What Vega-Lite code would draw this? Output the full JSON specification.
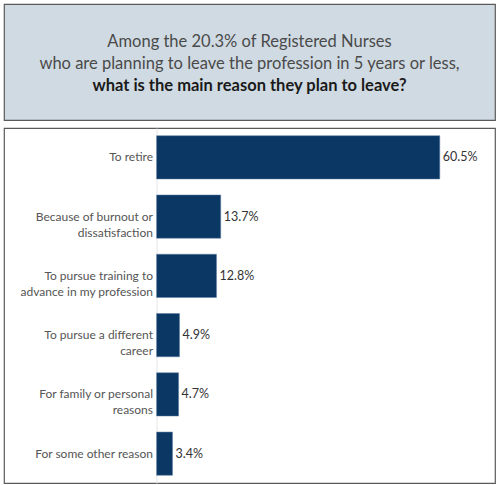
{
  "$schema": "https://vega.github.io/schema/vega-lite/v6.json",
  "background": "white",
  "padding": {"left": 3, "top": 3, "right": 2, "bottom": 1},
  "spacing": 6,
  "config": {
    "font": "Lato",
    "view": {"stroke": "#5a5a5a", "strokeWidth": 1.2}
  },
  "datasets": {
    "heading": [
      {"line": 1, "text": "Among the 20.3% of Registered Nurses", "bold": false},
      {"line": 2, "text": "who are planning to leave the profession in 5 years or less,", "bold": false},
      {"line": 3, "text": "what is the main reason they plan to leave?", "bold": true}
    ],
    "reasons": [
      {"reason": "To retire", "pct": 60.5},
      {"reason": "Because of burnout or|dissatisfaction", "pct": 13.7},
      {"reason": "To pursue training to|advance in my profession", "pct": 12.8},
      {"reason": "To pursue a different|career", "pct": 4.9},
      {"reason": "For family or personal|reasons", "pct": 4.7},
      {"reason": "For some other reason", "pct": 3.4}
    ]
  },
  "vconcat": [
    {
      "width": 491,
      "height": 116,
      "view": {"fill": "#d0dae3"},
      "data": {"name": "heading"},
      "encoding": {
        "y": {"field": "line", "type": "quantitative", "scale": {"domain": [-0.727, 4.545], "reverse": true, "nice": false, "zero": false}, "axis": null},
        "text": {"field": "text"}
      },
      "layer": [
        {
          "transform": [{"filter": "datum.bold == false"}],
          "mark": {"type": "text", "fontSize": 16.5, "color": "#4a4a4a", "baseline": "middle", "align": "center"}
        },
        {
          "transform": [{"filter": "datum.bold == true"}],
          "mark": {"type": "text", "fontSize": 16.5, "fontWeight": "bold", "color": "#1a1a1a", "baseline": "middle", "align": "center"}
        }
      ]
    },
    {
      "width": 491,
      "height": 355,
      "data": {"name": "reasons"},
      "encoding": {
        "y": {
          "field": "reason",
          "type": "nominal",
          "sort": null,
          "scale": {"paddingInner": 0.27, "paddingOuter": 0.13},
          "axis": {
            "title": null,
            "offset": -152.5,
            "domainColor": "#e6e6e6",
            "domainWidth": 1,
            "ticks": false,
            "labelPadding": 4,
            "labelFontSize": 12,
            "labelColor": "#555555",
            "labelLineHeight": 16,
            "labelLimit": 200,
            "labelExpr": "split(datum.label, '|')"
          }
        },
        "x": {
          "field": "pct",
          "type": "quantitative",
          "scale": {"domain": [-32.6, 72.3], "nice": false, "zero": false},
          "axis": null
        }
      },
      "layer": [
        {
          "mark": {"type": "bar", "color": "#0a3764", "stroke": "#5d7fa3", "strokeWidth": 0.5}
        },
        {
          "mark": {
            "type": "text",
            "align": "left",
            "baseline": "middle",
            "dx": 3,
            "fontSize": 12.5,
            "color": "#333333",
            "text": {"expr": "format(datum.pct, '.1f') + '%'"}
          }
        }
      ]
    }
  ]
}
